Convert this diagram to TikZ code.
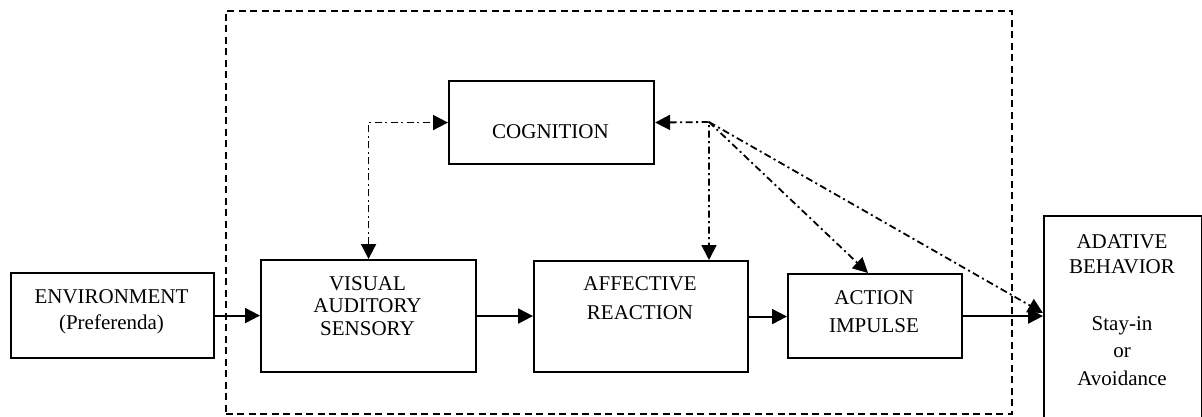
\documentclass[tikz,border=0pt]{standalone}
\usepackage{fontspec}
\setmainfont{Liberation Serif}
\usetikzlibrary{arrows.meta}
\tikzset{
  box/.style={draw, line width=2.1pt, inner sep=0pt, anchor=north west},
  txt/.style={anchor=base, inner sep=0pt, font=\fontsize{21}{25}\selectfont},
  flow/.style={line width=2pt, -{Triangle[length=15pt,width=15pt]}},
  dd/.style={line width=1.8pt, dash pattern=on 7pt off 3.5pt on 2pt off 3.5pt},
  onetip/.style={-{Triangle[length=15pt,width=15pt]}},
  twotips/.style={{Triangle[length=15pt,width=15pt]}-{Triangle[length=15pt,width=15pt]}},
  frame/.style={draw, line width=1.7pt, dash pattern=on 7pt off 4.5pt, inner sep=0pt, anchor=north west}
}
\begin{document}
\begin{tikzpicture}[x=1pt,y=-1pt]
\useasboundingbox (0,0) rectangle (1202,416);
\clip (0,0) rectangle (1202,416);
% frame
\node[frame, minimum width=786pt, minimum height=403pt] (frm) at (225,10) {};
% boxes
\node[box, minimum width=203pt, minimum height=85pt] (env) at (10,272) {};
\node[box, minimum width=215pt, minimum height=112pt] (vis) at (260,259) {};
\node[box, minimum width=205pt, minimum height=83pt] (cog) at (448,80) {};
\node[box, minimum width=214pt, minimum height=111pt] (aff) at (533,260) {};
\node[box, minimum width=174pt, minimum height=84pt] (act) at (787,273) {};
\node[box, minimum width=158pt, minimum height=230pt] (adp) at (1043,215) {};
% texts
\node[txt] (envA) at (111.5,303) {ENVIRONMENT};
\node[txt] (envB) at (111.5,329) {(Preferenda)};
\node[txt] (visA) at (367.5,290) {VISUAL};
\node[txt] (visB) at (367.5,312.5) {AUDITORY};
\node[txt] (visC) at (367.5,335) {SENSORY};
\node[txt] (cogA) at (550.5,138) {COGNITION};
\node[txt] (affA) at (640,290) {AFFECTIVE};
\node[txt] (affB) at (640,319) {REACTION};
\node[txt] (actA) at (874,304) {ACTION};
\node[txt] (actB) at (874,332) {IMPULSE};
\node[txt] (adpA) at (1122,248) {ADATIVE};
\node[txt] (adpB) at (1122,273) {BEHAVIOR};
\node[txt] (adpC) at (1122,330) {Stay-in};
\node[txt] (adpD) at (1122,357) {or};
\node[txt] (adpE) at (1122,385) {Avoidance};
% solid flow
\draw[flow] (env.east) -- (env.east -| vis.west);
\draw[flow] (vis.east) -- (vis.east -| aff.west);
\draw[flow] (aff.east) -- (aff.east -| act.west);
\draw[flow] (act.east) -- (act.east -| adp.west);
% dash-dot links
\coordinate (lc) at (vis.north |- cog.west);
\coordinate (rc) at (709,122);
\coordinate (afftop) at (709,260);
\coordinate (acttop) at (868,273);
\coordinate (adpin) at (1043,313);
\draw[dd, twotips] (vis.north) -- (lc) -- (cog.west);
\draw[dd, twotips] (cog.east) -- (rc) -- (afftop);
\draw[dd, onetip] (rc) -- (acttop);
\draw[dd, onetip] (rc) -- (adpin);
\end{tikzpicture}
\end{document}
